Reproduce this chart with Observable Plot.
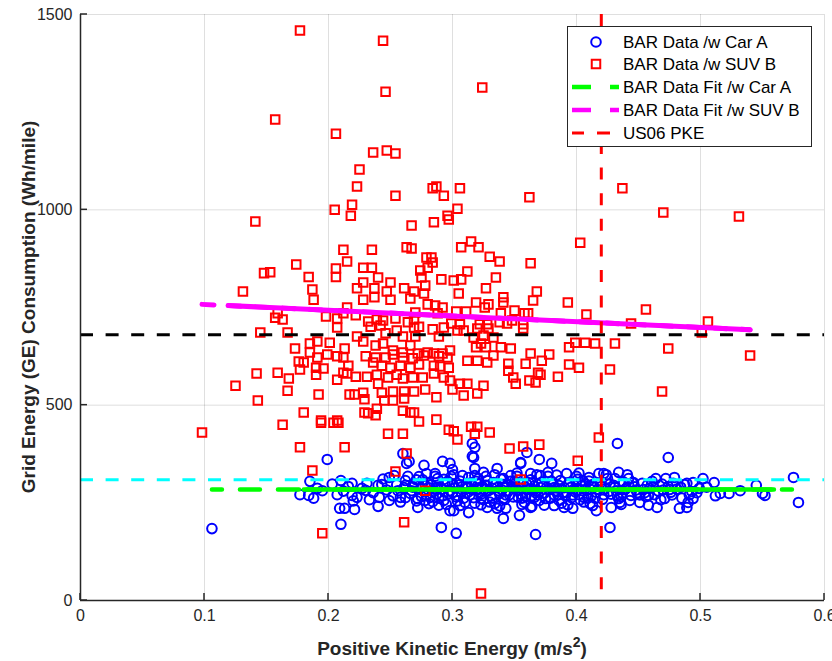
<!DOCTYPE html>
<html><head><meta charset="utf-8">
<script src="https://cdn.jsdelivr.net/npm/d3@7"></script>
<script src="https://cdn.jsdelivr.net/npm/@observablehq/plot@0.6"></script>
<style>body{margin:0;background:#fff}</style>
</head><body><div id="chart"></div>
<script>
// ---- Data ----
const carA = [
[0.106,184],[0.199,361],[0.185,305],[0.191,287],[0.177,271],[0.184,269],[0.207,271],[0.210,307],[0.219,300],[0.219,269],[0.223,264],[0.209,236],[0.213,236],[0.221,233],[0.210,195],
[0.230,282],[0.241,264],[0.243,297],[0.240,241],[0.249,256],[0.253,320],[0.258,264],[0.260,376],[0.263,351],[0.265,356],[0.262,307],[0.268,292],[0.272,261],[0.272,238],[0.277,346],[0.279,325],[0.278,294],[0.282,264],[0.286,325],[0.292,356],[0.286,287],[0.293,256],[0.298,351],[0.298,230],[0.301,230],[0.291,187],[0.303,172],[0.300,335],[0.300,299],[0.304,269],[0.308,320],[0.312,287],[0.313,225],[0.316,402],[0.318,392],[0.316,369],[0.318,338],[0.321,312],[0.323,261],[0.325,328],[0.328,307],[0.332,287],[0.328,238],[0.336,338],[0.341,312],[0.341,261],[0.343,236],[0.341,210],[0.347,320],[0.349,289],[0.353,264],[0.354,218],[0.355,351],[0.360,379],[0.363,325],[0.366,264],[0.367,169],[0.363,238],[0.370,361],[0.371,320],[0.377,328],[0.380,351],[0.382,289],[0.386,256],[0.390,238],[0.392,325],[0.397,236],[0.401,310],[0.406,264],[0.410,315],[0.411,248],[0.416,230],[0.418,325],
[0.317,366],[0.355,353],[0.433,402],[0.427,187],[0.428,238],[0.364,241],[0.382,243],[0.336,236],
[0.474,366],[0.422,325],[0.434,328],[0.431,312],[0.442,312],[0.446,302],[0.435,251],[0.434,261],[0.444,269],[0.451,251],[0.465,238],[0.464,312],[0.472,312],[0.479,315],[0.487,297],[0.471,261],[0.483,236],[0.489,238],[0.490,251],[0.494,261],[0.497,276],[0.494,302],[0.502,312],[0.511,302],[0.516,274],[0.523,274],[0.550,274],[0.552,269],[0.575,315],[0.579,251],[0.454,284],[0.475,284],[0.458,269],
[0.231,300],[0.236,276],[0.244,311],[0.247,283],[0.252,268],[0.255,296],[0.258,252],[0.261,289],[0.264,318],[0.266,274],[0.269,300],[0.271,255],[0.274,286],[0.276,309],[0.279,270],[0.281,248],[0.283,296],[0.285,279],[0.288,312],[0.289,262],[0.291,285],[0.294,300],[0.295,246],[0.297,273],[0.299,318],[0.302,288],[0.304,255],[0.306,306],[0.307,278],[0.309,262],[0.311,297],[0.313,315],[0.314,270],[0.316,283],[0.318,249],[0.319,305],[0.322,276],[0.324,292],[0.325,258],[0.327,318],[0.329,281],[0.331,267],[0.333,302],[0.334,248],[0.336,289],[0.338,274],[0.339,311],[0.342,258],[0.344,296],[0.345,280],[0.347,305],[0.349,265],[0.351,288],[0.352,318],[0.355,272],[0.357,300],[0.358,251],[0.361,284],[0.363,309],[0.364,268],[0.366,293],[0.368,280],[0.370,256],[0.372,303],[0.374,275],[0.376,290],[0.377,318],[0.379,262],[0.381,298],[0.383,281],[0.385,270],[0.387,307],[0.388,249],[0.390,289],[0.392,276],[0.394,301],[0.396,263],[0.398,285],[0.400,318],[0.402,271],[0.404,294],[0.406,252],[0.408,282],[0.410,306],[0.412,268],[0.414,291],[0.416,277],[0.419,300],[0.421,259],[0.423,286],[0.425,312],[0.428,272],[0.430,295],[0.432,281],[0.436,266],[0.438,303],[0.440,287],[0.443,256],[0.447,291],[0.449,276],[0.453,300],[0.456,266],[0.459,287],[0.461,305],[0.466,280],[0.468,258],[0.474,292],[0.477,270],[0.481,285],[0.485,262],[0.489,300],[0.493,279],[0.505,290],[0.512,268],[0.532,281],[0.545,295],
[0.227,287],[0.233,258],[0.240,295],[0.249,315],[0.256,281],[0.262,263],[0.268,290],[0.273,317],[0.278,256],[0.282,288],[0.287,272],[0.293,310],[0.298,281],[0.303,265],[0.308,292],[0.312,276],[0.317,263],[0.321,298],[0.326,285],[0.330,252],[0.335,299],[0.340,283],[0.343,270],[0.348,292],[0.353,282],[0.356,262],[0.360,297],[0.365,284],[0.369,270],[0.373,293],[0.378,283],[0.382,271],[0.386,294],[0.391,268],[0.395,289],[0.399,278],[0.403,258],[0.407,299],[0.411,285],[0.415,262],[0.420,292],[0.426,279],[0.431,290],[0.437,275],[0.442,296],[0.448,283],[0.455,276],[0.462,292],[0.470,283],[0.478,300],
[0.188,262],[0.195,281],[0.203,298],[0.212,280],[0.216,292],[0.220,255],
[0.262,295],[0.267,281],[0.271,309],[0.275,266],[0.280,300],[0.284,253],[0.288,290],[0.292,268],[0.296,305],[0.300,276],[0.305,296],[0.310,251],[0.315,301],[0.320,286],[0.323,272],[0.327,295],[0.332,262],[0.337,281],[0.341,297],[0.346,271],[0.350,305],[0.354,288],[0.359,266],[0.362,300],[0.367,276],[0.371,289],[0.375,261],[0.380,305],[0.384,288],[0.389,276],[0.393,296],[0.397,270],[0.401,283],[0.405,307],[0.409,262],[0.413,297],[0.417,284],[0.422,271],[0.427,298],[0.433,268],[0.439,284],[0.445,301],[0.451,270],[0.457,295],[0.463,271],[0.469,298],[0.476,277],[0.484,290],[0.491,270],[0.499,287],
[0.286,318],[0.301,322],[0.318,320],[0.334,322],[0.352,326],[0.368,322],[0.384,321],[0.402,326],[0.424,322],[0.441,322],
[0.289,244],[0.306,243],[0.323,245],[0.338,242],[0.356,246],[0.374,244],[0.393,245],[0.413,243],[0.436,246],[0.458,244]
];
const suvB = [
[0.177,1459],[0.244,1433],[0.246,1302],[0.324,1313],[0.157,1231],[0.206,1195],[0.236,1147],[0.247,1152],[0.254,1144],[0.225,1103],[0.223,1060],[0.219,1013],[0.205,1000],[0.218,985],[0.141,970],[0.254,1036],[0.284,1055],[0.287,1060],[0.293,1036],[0.306,1055],[0.362,1032],[0.304,1003],[0.296,985],[0.297,975],[0.285,968],[0.437,1055],[0.470,993],[0.531,983],[0.267,960],
[0.212,898],[0.235,898],[0.263,904],[0.267,901],[0.307,904],[0.315,919],[0.321,904],[0.330,880],[0.338,868],[0.363,863],[0.403,916],[0.215,868],[0.228,852],[0.235,852],[0.240,827],[0.250,814],[0.279,878],[0.283,878],[0.284,865],[0.280,852],[0.274,845],[0.275,827],[0.278,806],[0.291,822],[0.301,819],[0.307,822],[0.312,842],[0.335,827],[0.327,799],[0.305,786],[0.223,799],[0.228,814],[0.237,799],[0.247,791],[0.261,799],[0.269,791],[0.277,786],[0.266,773],[0.228,770],[0.237,776],[0.250,770],[0.280,758],[0.286,755],[0.292,750],[0.319,763],[0.329,758],[0.341,776],[0.341,763],[0.365,768],[0.368,791],[0.393,763],[0.408,732],[0.350,742],[0.358,735],[0.361,735],[0.339,735],[0.326,750],[0.311,740],[0.303,740],[0.270,737],[0.288,735],
[0.206,850],[0.206,828],[0.174,860],[0.184,828],[0.148,838],[0.153,840],[0.131,791],[0.187,796],[0.188,770],[0.215,750],[0.212,735],[0.222,730],[0.198,727],[0.207,722],[0.207,699],[0.159,735],[0.157,724],[0.163,719],[0.145,686],[0.167,686],[0.223,676],[0.173,645],[0.185,658],[0.191,663],[0.201,660],[0.213,645],[0.185,635],[0.199,630],[0.191,622],[0.207,625],[0.212,622],[0.176,612],[0.180,609],[0.216,601],[0.177,591],[0.190,596],[0.196,594],[0.212,583],[0.215,581],[0.222,573],[0.207,565],[0.190,578],[0.159,583],[0.142,581],[0.168,568],[0.125,550],[0.167,537],[0.192,527],[0.217,527],[0.221,527],[0.143,512],[0.180,481],[0.194,461],[0.207,461],
[0.098,430],[0.163,450],[0.194,455],[0.204,455],[0.208,455],[0.177,392],[0.213,392],[0.187,333],[0.195,172],
[0.232,714],[0.239,719],[0.244,717],[0.254,722],[0.234,701],[0.242,704],[0.255,691],[0.264,712],[0.269,719],[0.269,699],[0.273,701],[0.284,694],[0.293,699],[0.299,709],[0.304,691],[0.228,663],[0.246,684],[0.260,676],[0.270,676],[0.289,676],[0.238,653],[0.244,658],[0.252,640],[0.260,635],[0.266,653],[0.272,632],[0.280,635],[0.285,632],[0.292,632],[0.298,640],[0.230,625],[0.238,622],[0.246,622],[0.252,630],[0.260,622],[0.268,620],[0.277,627],[0.289,625],[0.296,622],[0.236,609],[0.243,601],[0.250,596],[0.258,601],[0.266,596],[0.273,604],[0.285,601],[0.290,599],[0.297,596],[0.231,573],[0.239,578],[0.240,555],[0.248,571],[0.255,578],[0.260,568],[0.268,571],[0.276,571],[0.285,581],[0.293,571],[0.298,563],[0.228,532],[0.229,515],[0.243,532],[0.252,535],[0.261,535],[0.269,535],[0.278,540],[0.287,520],[0.300,540],[0.245,512],[0.252,512],[0.261,517],[0.229,481],[0.232,479],[0.238,474],[0.239,491],[0.260,486],[0.266,481],[0.269,481],[0.273,458],[0.287,463],[0.248,427],[0.260,427],[0.297,437],[0.301,433],[0.263,376],
[0.322,707],[0.328,707],[0.338,712],[0.320,696],[0.329,696],[0.344,709],[0.348,717],[0.357,707],[0.357,696],[0.306,707],[0.309,691],[0.317,673],[0.325,678],[0.333,673],[0.323,658],[0.319,648],[0.327,648],[0.339,648],[0.347,645],[0.363,632],[0.378,630],[0.372,614],[0.359,606],[0.345,606],[0.333,627],[0.312,614],[0.320,614],[0.328,609],[0.394,648],[0.399,660],[0.407,660],[0.415,658],[0.431,658],[0.394,604],[0.402,596],[0.369,583],[0.371,578],[0.385,573],[0.345,588],[0.349,571],[0.351,555],[0.362,563],[0.367,558],[0.325,550],[0.320,530],[0.312,555],[0.306,555],[0.309,525],
[0.456,745],[0.444,709],[0.506,714],[0.501,686],[0.474,645],[0.540,627],[0.427,591],[0.469,535],
[0.304,412],[0.315,445],[0.320,445],[0.318,427],[0.330,430],[0.346,389],[0.357,394],[0.370,399],[0.401,358],[0.418,417],[0.254,330],[0.278,281],[0.355,310],[0.261,200],[0.323,18]
];
const fitCarX = [0.106, 0.579], fitCarY = [284, 284];
const fitCarSolidX = [0.18, 0.557];
const fitSuvX = [0.098, 0.540], fitSuvY = [758, 693];
const fitSuvSolidX = [0.119, 0.540];
const refSuv = 680;      // black dashed horizontal
const refCar = 309;      // cyan dashed horizontal
const us06Pke = 0.42;    // red dashed vertical
const xTicks = [0, 0.1, 0.2, 0.3, 0.4, 0.5, 0.6];
const yTicks = [0, 500, 1000, 1500];
const legendLabels = ["BAR Data /w Car A","BAR Data /w SUV B","BAR Data Fit /w Car A","BAR Data Fit /w SUV B","US06 PKE"];
const xLabel = "Positive Kinetic Energy (m/s", xLabelSup = "2", xLabelEnd = ")";
const yLabel = "Grid Energy (GE) Consumption (Wh/mile)";

// ---- build ----
const carPts = carA.map(([x,y])=>({x,y}));
const suvPts = suvB.map(([x,y])=>({x,y}));
const lineFrom = (xs, f) => xs.map(x => ({x, y: f(x)}));
const suvAt = x => fitSuvY[0] + (fitSuvY[1]-fitSuvY[0])*(x-fitSuvX[0])/(fitSuvX[1]-fitSuvX[0]);
const carAt = x => fitCarY[0];
const axCol = "#262626";
const FONT = "'Liberation Sans', Arial, Helvetica, sans-serif";

const plot = Plot.plot({
  width: 832, height: 661,
  marginLeft: 80, marginRight: 8, marginTop: 14, marginBottom: 61,
  style: {fontFamily: FONT, fontSize: "16px", color: axCol, background: "white"},
  x: {domain: [0, 0.6], label: null},
  y: {domain: [0, 1500], label: null},
  marks: [
    Plot.gridX(xTicks, {stroke: axCol, strokeOpacity: 0.15, strokeWidth: 1}),
    Plot.gridY(yTicks, {stroke: axCol, strokeOpacity: 0.15, strokeWidth: 1}),
    Plot.dot(carPts, {x: "x", y: "y", r: 4.8, symbol: "circle", stroke: "#0000ff", strokeWidth: 2, fill: "none"}),
    Plot.dot(suvPts, {x: "x", y: "y", r: 4.8, symbol: "square", stroke: "#ff0000", strokeWidth: 2, fill: "none"}),
    Plot.line(lineFrom(fitCarX, carAt), {x: "x", y: "y", stroke: "#00ff00", strokeWidth: 4.5, strokeDasharray: "10,18,20,18,21,8"}),
    Plot.line(lineFrom(fitCarSolidX, carAt), {x: "x", y: "y", stroke: "#00ff00", strokeWidth: 4.5}),
    Plot.line(lineFrom(fitSuvX, suvAt), {x: "x", y: "y", stroke: "#ff00ff", strokeWidth: 5, strokeDasharray: "12,15"}),
    Plot.line(lineFrom(fitSuvSolidX, suvAt), {x: "x", y: "y", stroke: "#ff00ff", strokeWidth: 5}),
    Plot.ruleY([refSuv], {stroke: "black", strokeWidth: 3, strokeDasharray: "13,12.6"}),
    Plot.ruleY([refCar], {stroke: "#00ffff", strokeWidth: 3, strokeDasharray: "13,12.6"}),
    Plot.ruleX([us06Pke], {stroke: "#ff0000", strokeWidth: 3, strokeDasharray: "12,13.6"}),
    Plot.ruleX([0], {stroke: axCol, strokeWidth: 1.5}),
    Plot.ruleY([0], {stroke: axCol, strokeWidth: 1.5}),
    Plot.axisX(xTicks, {tickSize: 0, tickPadding: 9, tickFormat: d => String(d), fill: axCol}),
    Plot.axisY(yTicks, {tickSize: 0, tickPadding: 8, tickFormat: d => String(d), fill: axCol})
  ]
});
document.getElementById("chart").appendChild(plot);

const svg = d3.select(plot);
const sx = plot.scale("x"), sy = plot.scale("y");
const x0 = sx.apply(0), y0 = sy.apply(0);
// inward ticks (bottom and left only)
const tk = svg.append("g").attr("stroke", axCol).attr("stroke-width", 1.5);
xTicks.forEach(v => { const px = sx.apply(v); tk.append("line").attr("x1", px).attr("x2", px).attr("y1", y0).attr("y2", y0 - 7); });
yTicks.forEach(v => { const py = sy.apply(v); tk.append("line").attr("x1", x0).attr("x2", x0 + 7).attr("y1", py).attr("y2", py); });

// axis titles
const xt = svg.append("text").attr("x", 452).attr("y", 655).attr("text-anchor", "middle")
  .attr("font-family", FONT).attr("font-weight", "bold").attr("font-size", 19).attr("fill", axCol);
xt.append("tspan").text(xLabel);
xt.append("tspan").attr("font-size", 14).attr("dy", -8).text(xLabelSup);
xt.append("tspan").attr("dy", 8).text(xLabelEnd);
svg.append("text").attr("transform", "translate(35,307) rotate(-90)").attr("text-anchor", "middle")
  .attr("font-family", FONT).attr("font-weight", "bold").attr("font-size", 19).attr("fill", axCol).text(yLabel);

// legend
const lg = svg.append("g");
lg.append("rect").attr("x", 567.5).attr("y", 26.5).attr("width", 244).attr("height", 120)
  .attr("fill", "white").attr("stroke", axCol).attr("stroke-width", 1);
const rowsY = [42, 64, 87, 110, 133];
lg.append("circle").attr("cx", 596).attr("cy", rowsY[0]).attr("r", 4.8).attr("fill", "none").attr("stroke", "#0000ff").attr("stroke-width", 2);
lg.append("rect").attr("x", 591.75).attr("y", rowsY[1]-4.25).attr("width", 8.5).attr("height", 8.5).attr("fill", "none").attr("stroke", "#ff0000").attr("stroke-width", 2);
const seg = (x1, x2, y, c, w) => lg.append("line").attr("x1", x1).attr("x2", x2).attr("y1", y).attr("y2", y).attr("stroke", c).attr("stroke-width", w);
seg(572, 591, rowsY[2], "#00ff00", 4.5); seg(610, 619, rowsY[2], "#00ff00", 4.5);
seg(572, 591, rowsY[3], "#ff00ff", 4.5); seg(610, 619, rowsY[3], "#ff00ff", 4.5);
seg(572, 584, rowsY[4], "#ff0000", 3); seg(597, 610, rowsY[4], "#ff0000", 3);
legendLabels.forEach((t, i) => {
  lg.append("text").attr("x", 623).attr("y", rowsY[i]).attr("dy", "0.36em").attr("text-anchor", "start")
    .attr("font-family", FONT).attr("font-size", 17).attr("fill", "#000").text(t);
});
</script></body></html>
